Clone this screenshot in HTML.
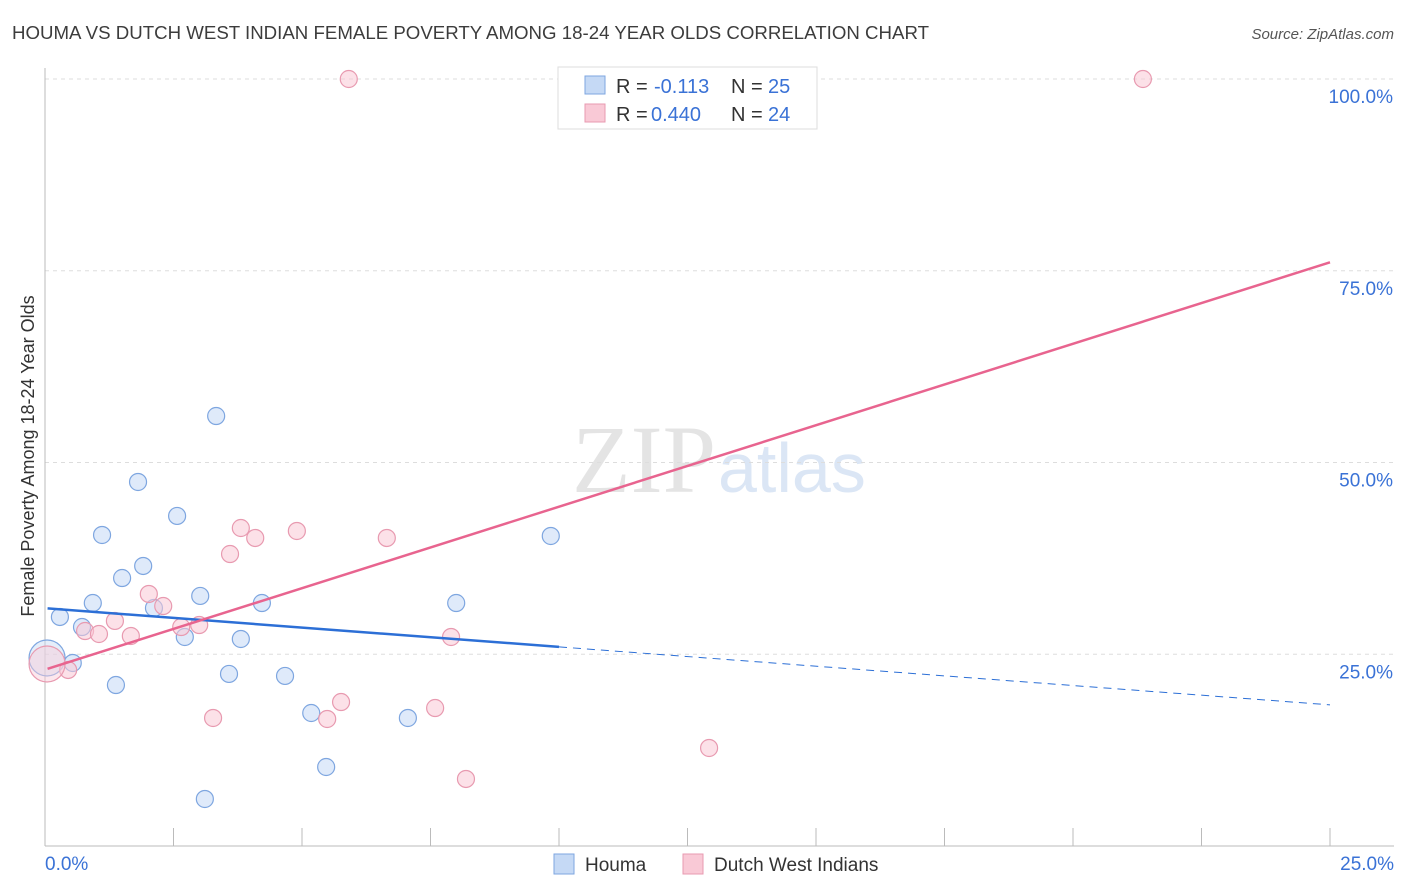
<!DOCTYPE html>
<html><head><meta charset="utf-8"><style>
body{margin:0;background:#fff;font-family:"Liberation Sans",sans-serif;}
svg{display:block}
</style></head><body>
<svg id="chart" width="1406" height="892">
<text x="12" y="39" font-size="18" fill="#3c3c3c" textLength="917" lengthAdjust="spacingAndGlyphs">HOUMA VS DUTCH WEST INDIAN FEMALE POVERTY AMONG 18-24 YEAR OLDS CORRELATION CHART</text>
<text x="1394" y="39" font-size="15" fill="#555" font-style="italic" text-anchor="end">Source: ZipAtlas.com</text>
<text x="716" y="492" font-size="96" fill="#e4e4e4" font-family="Liberation Serif,serif" text-anchor="end">ZIP</text>
<text x="718" y="492" font-size="70" fill="#dbe6f5">atlas</text>
<text transform="translate(34,456) rotate(-90)" font-size="18" fill="#333" text-anchor="middle">Female Poverty Among 18-24 Year Olds</text>
<g id="grid"></g><g id="axes"></g><g id="pts"></g><g id="lines"></g>
<g>
<rect x="558" y="67" width="259" height="62" fill="#fff" stroke="#ddd"/>
<rect x="585" y="76" width="20" height="18" fill="#c5d9f5" stroke="#7ea6e0"/>
<rect x="585" y="104" width="20" height="18" fill="#f9c9d6" stroke="#e89ab0"/>
<text x="616" y="93" font-size="20" fill="#333">R = </text>
<text x="654" y="93" font-size="20" fill="#3a72d6">-0.113</text>
<text x="731" y="93" font-size="20" fill="#333">N = </text>
<text x="768" y="93" font-size="20" fill="#3a72d6">25</text>
<text x="616" y="121" font-size="20" fill="#333">R = </text>
<text x="651" y="121" font-size="20" fill="#3a72d6">0.440</text>
<text x="731" y="121" font-size="20" fill="#333">N = </text>
<text x="768" y="121" font-size="20" fill="#3a72d6">24</text>
</g>
<g>
<rect x="554" y="854" width="20" height="20" fill="#c5d9f5" stroke="#7ea6e0"/>
<text x="585" y="871" font-size="19" fill="#333">Houma</text>
<rect x="683" y="854" width="20" height="20" fill="#f9c9d6" stroke="#e89ab0"/>
<text x="714" y="871" font-size="19" fill="#333">Dutch West Indians</text>
</g>
</svg>
<script>
const yTicks=[25,50,75,100];
const yTickLabels=["25.0%","50.0%","75.0%","100.0%"];
const houmaX=[3.33,1.81,1.11,2.57,1.91,1.50,0.93,2.12,3.02,4.22,0.29,0.72,2.72,3.81,0.54,1.38,3.58,4.67,5.18,7.06,5.47,3.11,9.84,8.00,0.04];
const houmaY=[56.06,47.46,40.55,43.03,36.51,34.94,31.68,31.03,32.60,31.68,29.86,28.55,27.25,26.99,23.86,20.99,22.43,22.17,17.34,16.69,10.30,6.13,40.42,31.68,24.51];
const dutchX=[5.91,21.36,3.81,4.90,4.09,6.65,3.60,2.02,2.30,2.65,3.00,1.36,0.78,1.05,1.67,7.90,0.45,3.27,5.49,5.76,7.59,8.19,12.92,0.04];
const dutchY=[100,100,41.46,41.07,40.16,40.16,38.07,32.86,31.29,28.55,28.81,29.34,28.03,27.64,27.38,27.25,22.95,16.69,16.56,18.77,17.99,8.74,12.78,23.73];
const houmaTrend=[31.0,18.4];
const dutchTrend=[23.1,76.1];
const houmaSolidEnd=10;

const NS="http://www.w3.org/2000/svg";
const X=v=>45+v/25*1285;
const Y=v=>846-v/100*767;
function mk(t,a,p){const e=document.createElementNS(NS,t);for(const k in a)e.setAttribute(k,a[k]);p.appendChild(e);return e;}
const grid=document.getElementById('grid'),axes=document.getElementById('axes'),pts=document.getElementById('pts'),lines=document.getElementById('lines');
yTicks.forEach((t,i)=>{
  const l=mk('line',{x1:45,x2:1394,y1:Y(t),y2:Y(t),stroke:'#ddd','stroke-dasharray':'4,4'},grid);
  
  
  const tx=mk('text',{x:1393,y:Y(t)+24,'font-size':19,fill:'#3a72d6','text-anchor':'end'},axes);
  tx.textContent=yTickLabels[i];
  
  
});
const ya=mk('line',{x1:45,x2:45,y1:68,y2:846,stroke:'#bbb'},axes);


const xa=mk('line',{x1:45,x2:1394,y1:846,y2:846,stroke:'#bbb'},axes);


for(let i=0;i<=10;i++){
  const tk=mk('line',{x1:X(i*2.5),x2:X(i*2.5),y1:828,y2:846,stroke:'#bbb'},axes);
  
  
}
const x0=mk('text',{x:45,y:870,'font-size':19,fill:'#3a72d6'},axes);x0.textContent='0.0%';


const x1=mk('text',{x:1394,y:870,'font-size':19,fill:'#3a72d6','text-anchor':'end'},axes);x1.textContent='25.0%';



function dots(xs,ys,fill,stroke,name){
  xs.forEach((x,i)=>{
    const big=(x<0.1);
    const c=mk('circle',{cx:X(x),cy:Y(ys[i]),r:big?18:8.5,fill:fill,'fill-opacity':big?0.45:0.55,stroke:stroke,'stroke-width':1.2},pts);
    
    
  });
}
dots(houmaX,houmaY,'#c5d9f5','#7ea6e0','houma-point');
dots(dutchX,dutchY,'#f9c9d6','#e89ab0','dutch-point');
const hy=x=>houmaTrend[0]+(houmaTrend[1]-houmaTrend[0])*x/25;
const l1=mk('line',{x1:X(0.05),y1:Y(hy(0.05)),x2:X(houmaSolidEnd),y2:Y(hy(houmaSolidEnd)),stroke:'#2c6fd6','stroke-width':2.5},lines);


const l2=mk('line',{x1:X(houmaSolidEnd),y1:Y(hy(houmaSolidEnd)),x2:X(25),y2:Y(hy(25)),stroke:'#2c6fd6','stroke-width':1,'stroke-dasharray':'8,6'},lines);


const l3=mk('line',{x1:X(0.05),y1:Y(dutchTrend[0]),x2:X(25),y2:Y(dutchTrend[1]),stroke:'#e8648f','stroke-width':2.5},lines);


</script>
</body></html>
